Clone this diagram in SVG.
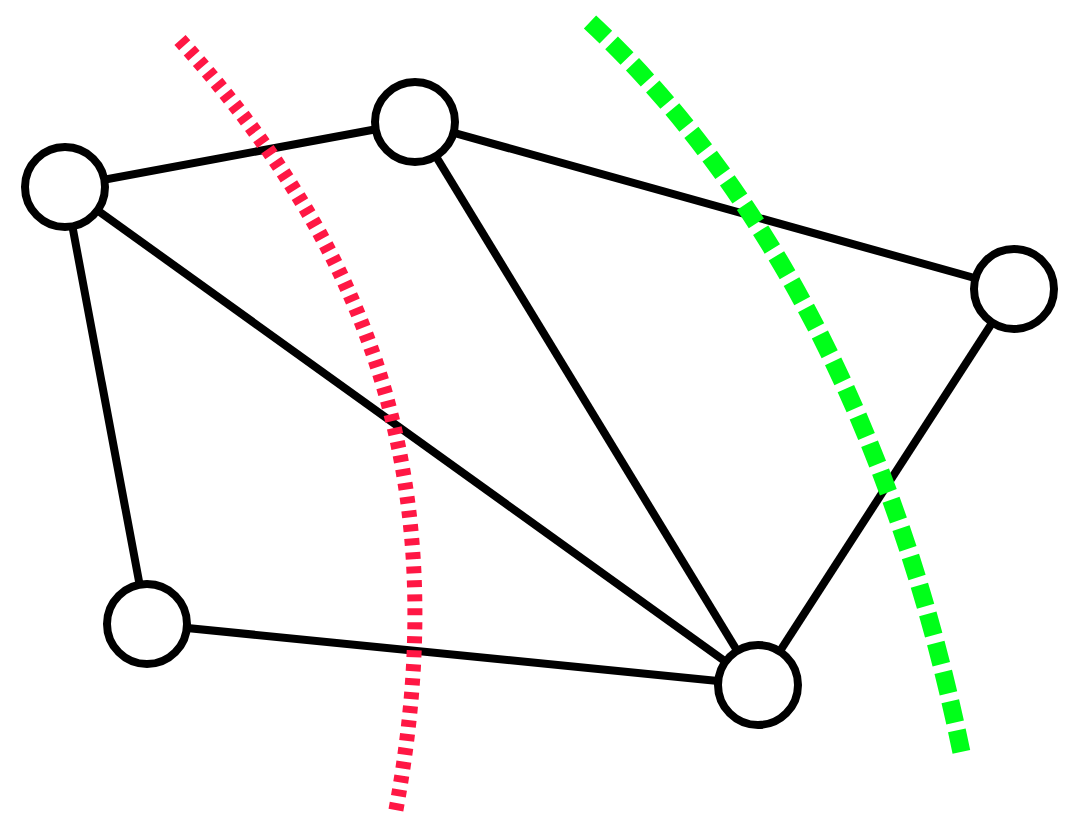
<svg xmlns="http://www.w3.org/2000/svg" width="1080" height="840" viewBox="0 0 1080 840">
<style>
.edge{stroke:#000;stroke-width:8;fill:none}
.node circle{fill:#fff;stroke:#000;stroke-width:8}
.cut1{fill:none;stroke:#ff1744;stroke-width:15;stroke-dasharray:7 7}
.cut2{fill:none;stroke:#00ff19;stroke-width:18;stroke-dasharray:22 8}
</style>
<rect width="1080" height="840" fill="#fff"/>
<g id="edges">
<line class="edge" x1="65" y1="187" x2="415" y2="122"/>
<line class="edge" x1="65" y1="187" x2="147" y2="624"/>
<line class="edge" x1="65" y1="187" x2="758" y2="685"/>
<line class="edge" x1="415" y1="122" x2="1014" y2="289"/>
<line class="edge" x1="415" y1="122" x2="758" y2="685"/>
<line class="edge" x1="1014" y1="289" x2="758" y2="685"/>
<line class="edge" x1="147" y1="624" x2="758" y2="685"/>
</g>
<g id="nA" class="node"><circle cx="65" cy="187" r="40"/></g>
<g id="nB" class="node"><circle cx="415" cy="122" r="40"/></g>
<g id="nC" class="node"><circle cx="1014" cy="289" r="40"/></g>
<g id="nD" class="node"><circle cx="147" cy="624" r="40"/></g>
<g id="nE" class="node"><circle cx="758" cy="685" r="40"/></g>
<g id="cuts">
<path class="cut1" d="M180,40 C360,240 460,470 395,815"/>
<path class="cut2" d="M590,22 C775,195 900,450 962,755"/>
</g>
</svg>
